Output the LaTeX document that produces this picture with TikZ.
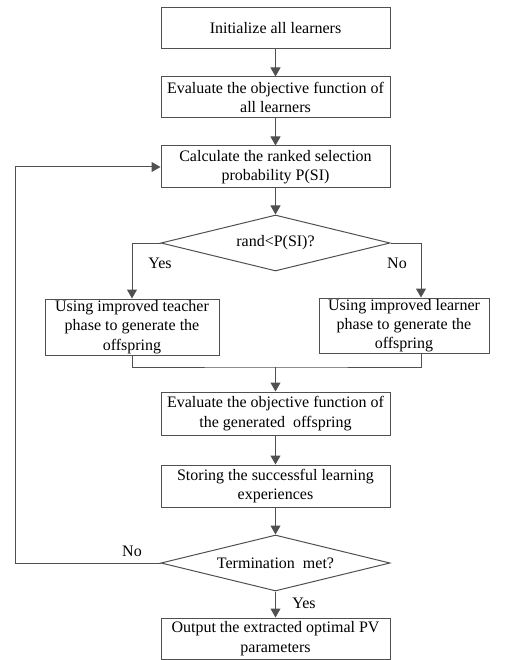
\documentclass[tikz,border=0pt]{standalone}
\usepackage{fontspec}
\setmainfont{Liberation Serif}
\usetikzlibrary{arrows.meta,shapes.geometric}
\definecolor{linegray}{RGB}{80,80,80}

\begin{document}
\begin{tikzpicture}[x=1pt, y=-1pt,
    font=\fontsize{16}{19.3}\selectfont,
    line/.style={draw=linegray, line width=1pt},
    arr/.style={line, -{Triangle[length=9pt,width=10pt]}},
    box/.style={line, rectangle, align=center, inner sep=0pt, minimum width=229pt, minimum height=41pt},
    decision/.style={line, diamond, aspect=4, inner sep=0pt, minimum width=229pt, minimum height=56pt}]
    \useasboundingbox (0,0) rectangle (507,660);

    % Boxes
    \node[box] (init) at (275.5,28.5) {Initialize all learners};
    \node[box] (evalall) at (275.5,97.5) {Evaluate the objective function of\\all learners};
    \node[box, minimum height=42pt] (calc) at (275.5,167) {Calculate the ranked selection\\probability P(SI)};
    \node[decision] (rnd) at (275.5,243) {rand<P(SI)?};
    \node[box, minimum width=174pt, minimum height=56pt] (teacher) at (132,327) {Using improved teacher\\phase to generate the\\offspring};
    \node[box, minimum width=170pt, minimum height=55pt] (learner) at (404,325.5) {Using improved learner\\phase to generate the\\offspring};
    \node[box, minimum height=43pt] (evalgen) at (275.5,413.5) {Evaluate the objective function of\\the generated\ \ offspring};
    \node[box, minimum height=42pt] (store) at (275.5,486) {Storing the successful learning\\experiences};
    \node[decision] (term) at (275.5,563) {Termination\ \ met?};
    \node[box] (output) at (275.5,638.5) {Output the extracted optimal PV\\parameters};

    % Helper points
    \coordinate (nocol) at (421,0);
    \coordinate (merge) at (275.5,367);
    \coordinate (loop) at (15,0);

    % Main flow
    \draw[arr] (init) -- (evalall);
    \draw[arr] (evalall) -- (calc);
    \draw[arr] (calc) -- (rnd);
    \draw[arr] (rnd.west) -| (teacher.north);
    \draw[arr] (rnd.east) -| (learner.north -| nocol);
    \draw[line] (teacher.south) |- (merge) -| (learner.south -| nocol);
    \draw[arr] (merge) -- (evalgen);
    \draw[arr] (evalgen) -- (store);
    \draw[arr] (store) -- (term);
    \draw[arr] (term) -- (output);
    \draw[arr] (term.west) -| (loop |- calc) -- (calc.west);

    % Labels
    \node (yes1) at (160,263) {Yes};
    \node (no1) at (397,263) {No};
    \node (no2) at (132,551) {No};
    \node (yes2) at (304,603) {Yes};
\end{tikzpicture}
\end{document}
